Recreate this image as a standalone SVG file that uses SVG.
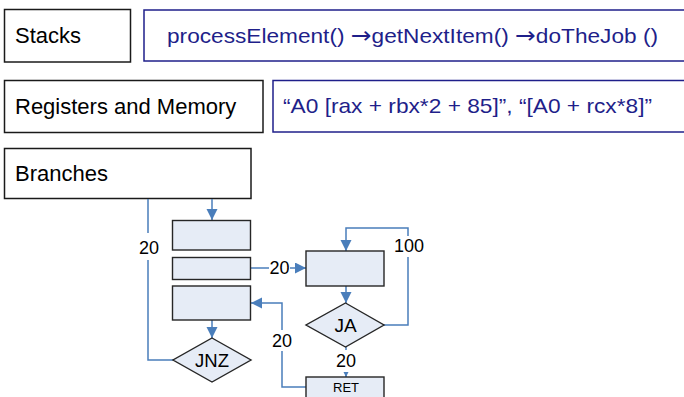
<svg xmlns="http://www.w3.org/2000/svg" width="684" height="397" viewBox="0 0 684 397">
<style>
.box{fill:#ffffff;stroke:#1a1a1a;stroke-width:1.5}
.code{fill:#ffffff;stroke:#1f1f8a;stroke-width:1.5}
.node{fill:#e6ecf6;stroke:#262626;stroke-width:1.4}
.t{font-family:"Liberation Sans",Arial,sans-serif;fill:#000000}
.ct{font-family:"Liberation Sans",Arial,sans-serif;fill:#1f1f8a;font-size:21px}
.ar{font-family:"DejaVu Sans",sans-serif;font-size:23px}
.lbl{font-family:"Liberation Sans",Arial,sans-serif;font-size:18px;fill:#000000;text-anchor:middle}
.conn{fill:none;stroke:#4a7ebb;stroke-width:1.5}
.bg{fill:#ffffff}
</style>
<defs>
<marker id="arr" markerUnits="userSpaceOnUse" markerWidth="12" markerHeight="12" refX="11" refY="5.5" orient="auto">
<path d="M0,0 L11,5.5 L0,11 z" fill="#4a7ebb"/>
</marker>
</defs>

<g id="stacks">
<rect class="box" x="4.5" y="9.5" width="126" height="52.5"/>
<text class="t" x="15" y="43" font-size="22">Stacks</text>
</g>
<g id="stacks-code">
<rect class="code" x="144" y="10" width="560" height="51"/>
<text class="ct" x="167" y="43" textLength="491" lengthAdjust="spacingAndGlyphs">processElement() <tspan class="ar">→</tspan>getNextItem() <tspan class="ar">→</tspan>doTheJob ()</text>
</g>
<g id="registers">
<rect class="box" x="4.5" y="80.5" width="258.5" height="52"/>
<text class="t" x="15" y="114" font-size="22">Registers and Memory</text>
</g>
<g id="registers-code">
<rect class="code" x="273" y="80.5" width="430" height="51.5"/>
<text class="ct" x="283" y="113" textLength="369" lengthAdjust="spacingAndGlyphs">“A0 [rax + rbx*2 + 85]”, “[A0 + rcx*8]”</text>
</g>
<g id="branches">
<rect class="box" x="4.5" y="148.5" width="246.5" height="50"/>
<text class="t" x="15" y="181" font-size="22">Branches</text>
</g>

<g id="connectors">
<path class="conn" d="M212,199 V220" marker-end="url(#arr)"/>
<path class="conn" d="M148,199 V360 H173"/>
<path class="conn" d="M212,320 V338" marker-end="url(#arr)"/>
<path class="conn" d="M251,268 H306" marker-end="url(#arr)"/>
<path class="conn" d="M346,286 V303" marker-end="url(#arr)"/>
<path class="conn" d="M384,325 H408 V228 H346 V251" marker-end="url(#arr)"/>
<path class="conn" d="M346,347 V377" marker-end="url(#arr)"/>
<path class="conn" d="M306,387 H282 V303 H251" marker-end="url(#arr)"/>
<rect class="bg" x="138" y="233" width="22" height="27"/>
<text class="lbl" x="149" y="254">20</text>
<rect class="bg" x="269" y="259" width="21" height="17"/>
<text class="lbl" x="279.5" y="274">20</text>
<rect class="bg" x="394" y="236" width="30" height="21"/>
<text class="lbl" x="409" y="252">100</text>
<rect class="bg" x="335" y="350" width="22" height="22"/>
<text class="lbl" x="346" y="367">20</text>
<rect class="bg" x="271" y="330" width="22" height="21"/>
<text class="lbl" x="282" y="347">20</text>
</g>

<g id="block1"><rect class="node" x="172.5" y="220.5" width="78" height="29.5"/></g>
<g id="block2"><rect class="node" x="172.5" y="257.5" width="78" height="22"/></g>
<g id="block3"><rect class="node" x="172.5" y="286" width="78" height="34"/></g>
<g id="jnz">
<polygon class="node" points="212,338 251,360 212,382 173,360"/>
<text class="t" x="212" y="367" font-size="18.5" text-anchor="middle">JNZ</text>
</g>
<g id="loop-body"><rect class="node" x="306" y="251" width="78" height="35"/></g>
<g id="ja">
<polygon class="node" points="345.5,303 384,325 345.5,347 306,325"/>
<text class="t" x="345.5" y="332" font-size="19" text-anchor="middle">JA</text>
</g>
<g id="ret">
<rect class="node" x="306" y="377" width="78" height="30"/>
<text class="t" x="346" y="392" font-size="13" text-anchor="middle">RET</text>
</g>
</svg>
